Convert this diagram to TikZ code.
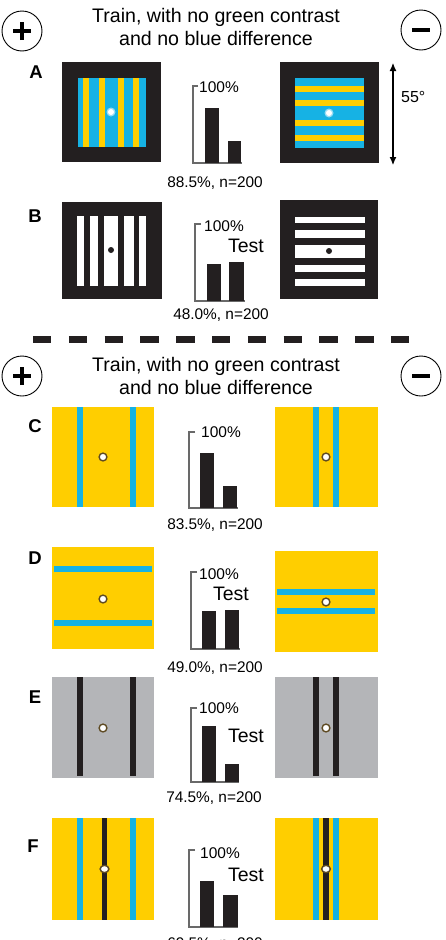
\documentclass[tikz,border=0pt]{standalone}
\usepackage{fontspec}
\setmainfont{Liberation Sans}
\usetikzlibrary{arrows.meta}
\definecolor{cy}{RGB}{22,178,228}
\definecolor{yl}{RGB}{255,206,0}
\definecolor{dk}{RGB}{35,31,32}
\definecolor{gr}{RGB}{180,181,184}
\definecolor{ax}{RGB}{105,105,105}
\definecolor{dotrim}{RGB}{95,75,35}
\begin{document}
\begin{tikzpicture}[x=1pt,y=-1pt,
  title/.style={font=\fontsize{19.6}{23}\selectfont, align=center, inner sep=0pt},
  lab/.style={font=\fontsize{18.5}{18}\selectfont\bfseries, inner sep=0pt},
  pct/.style={font=\fontsize{15.5}{16}\selectfont, anchor=west, inner sep=0pt},
  res/.style={font=\fontsize{15.4}{16}\selectfont, inner sep=0pt},
  testlab/.style={font=\fontsize{19.5}{19}\selectfont, inner sep=0pt},
  axisline/.style={draw=ax, line width=1.2pt},
  barfill/.style={fill=dk},
  sign/.style={circle, draw=black, line width=0.9pt, minimum size=40pt, inner sep=0pt},
  signbar/.style={line width=3.6pt},
  cdot/.style={fill=white, draw=dotrim, line width=1.4pt},
  dblarrow/.style={line width=1.1pt, arrows={Latex[length=8pt,width=7pt]-Latex[length=8pt,width=7pt]}}
]
\useasboundingbox (0,0) rectangle (446,940);
\fill[white] (0,0) rectangle (446,940);

% ---------- header 1 ----------
\node[title] (t1) at (216,26.5) {Train, with no green contrast\\and no blue difference};
\node[sign] (p1) at (22,31) {};
\draw[signbar] ([xshift=-9pt]p1.center) -- ([xshift=9pt]p1.center);
\draw[signbar] ([yshift=-9pt]p1.center) -- ([yshift=9pt]p1.center);
\node[sign] (m1) at (421,30) {};
\draw[signbar] ([xshift=-9pt]m1.center) -- ([xshift=9pt]m1.center);

% ---------- A ----------
\node[lab] (lA) at (36,72) {A};
\fill[dk] (62,62) rectangle (161,162);
\fill[cy] (78,78) rectangle (146,147);
\foreach \a in {83,99,118,133} \fill[yl] (\a,78) rectangle (\a+6,147);
\fill[white!55!cy] (111,112) circle (4.5);
\fill[white] (111,112) circle (3);

\fill[dk] (280,62) rectangle (379,163);
\fill[cy] (295,78) rectangle (364,148);
\foreach \a in {86,100,120,135} \fill[yl] (295,\a) rectangle (364,\a+5.5);
\fill[white!55!cy] (329,113) circle (4.5);
\fill[white] (329,113) circle (3);

\draw[axisline] (198,86) -- (193,86) -- (193,163) -- (242,163);
\fill[barfill] (205,108) rectangle (219,163);
\fill[barfill] (228,141) rectangle (241,163);
\node[pct] (pA) at (199,87) {100\%};
\node[res] (rA) at (215,183) {88.5\%, n=200};

\coordinate (ar1) at (393,63);
\coordinate (ar2) at (393,165);
\draw[dblarrow] (ar1) -- (ar2);
\node[anchor=west, inner sep=0pt, font=\fontsize{16}{16}\selectfont] (deg) at (401,97) {55°};

% ---------- B ----------
\node[lab] (lB) at (35,216) {B};
\fill[dk] (62,202) rectangle (162,299);
\fill[white] (77,216) rectangle (146,286);
\foreach \a in {84,98,118,133.5} \fill[dk] (\a,216) rectangle (\a+5.5,286);
\fill[dk] (111,250) circle (3);

\fill[dk] (280,200) rectangle (378,299);
\fill[white] (295,217) rectangle (365,286);
\foreach \a in {223,238,258,272} \fill[dk] (295,\a) rectangle (365,\a+6.5);
\fill[dk] (329,251) circle (3);

\draw[axisline] (201,224) -- (195,224) -- (195,301) -- (245,301);
\fill[barfill] (207,264) rectangle (221,301);
\fill[barfill] (229,262) rectangle (244,301);
\node[pct] (pB) at (204,226) {100\%};
\node[testlab] (tB) at (246,246) {Test};
\node[res] (rB) at (221,315) {48.0\%, n=200};

% ---------- divider ----------
\coordinate (d1) at (33,339);
\coordinate (d2) at (409,339);
\draw[dk, line width=7pt, dash pattern=on 18.3pt off 17.5pt] (d1) -- (d2);

% ---------- header 2 ----------
\node[title] (t2) at (216,375.5) {Train, with no green contrast\\and no blue difference};
\node[sign] (p2) at (22,376) {};
\draw[signbar] ([xshift=-9pt]p2.center) -- ([xshift=9pt]p2.center);
\draw[signbar] ([yshift=-9pt]p2.center) -- ([yshift=9pt]p2.center);
\node[sign] (m2) at (421,376) {};
\draw[signbar] ([xshift=-9pt]m2.center) -- ([xshift=9pt]m2.center);

% ---------- C ----------
\node[lab] (lC) at (35,426) {C};
\fill[yl] (52,407) rectangle (154,507);
\foreach \a in {77,130} \fill[cy] (\a,407) rectangle (\a+6,507);
\draw[cdot] (103,457) circle (3.9);

\fill[yl] (275,407) rectangle (378,507);
\foreach \a in {313,333} \fill[cy] (\a,407) rectangle (\a+6,507);
\draw[cdot] (326,457) circle (3.9);

\draw[axisline] (195,432) -- (189,432) -- (189,508) -- (238,508);
\fill[barfill] (200,453) rectangle (214,508);
\fill[barfill] (223,486) rectangle (237,508);
\node[pct] (pC) at (201,432) {100\%};
\node[res] (rC) at (215,525) {83.5\%, n=200};

% ---------- D ----------
\node[lab] (lD) at (35,558) {D};
\fill[yl] (52,547) rectangle (154,649);
\fill[cy] (54,566) rectangle (152,572);
\fill[cy] (54,620) rectangle (152,626);
\draw[cdot] (103,599) circle (3.9);

\fill[yl] (275,551) rectangle (378,652);
\fill[cy] (277,589) rectangle (375,595);
\fill[cy] (277,608) rectangle (375,614);
\draw[cdot] (326,602) circle (3.9);

\draw[axisline] (197,572) -- (191,572) -- (191,649) -- (240,649);
\fill[barfill] (202,611) rectangle (216,649);
\fill[barfill] (225,610) rectangle (239,649);
\node[pct] (pD) at (199,574) {100\%};
\node[testlab] (tD) at (231,594) {Test};
\node[res] (rD) at (215,668) {49.0\%, n=200};

% ---------- E ----------
\node[lab] (lE) at (35,697) {E};
\fill[gr] (52,677) rectangle (154,778);
\foreach \a in {77,130} \fill[dk] (\a,677) rectangle (\a+6,776);
\draw[cdot] (103,728) circle (3.9);

\fill[gr] (275,677) rectangle (378,778);
\foreach \a in {313,333} \fill[dk] (\a,677) rectangle (\a+6,776);
\draw[cdot] (326,728) circle (3.9);

\draw[axisline] (197,708) -- (191,708) -- (191,782) -- (239,782);
\fill[barfill] (202,726) rectangle (216,782);
\fill[barfill] (225,764) rectangle (239,782);
\node[pct] (pE) at (199,708) {100\%};
\node[testlab] (tE) at (246,736) {Test};
\node[res] (rE) at (214,798) {74.5\%, n=200};

% ---------- F ----------
\node[lab] (lF) at (33,846) {F};
\fill[yl] (52,818) rectangle (154,920);
\foreach \a in {77,130} \fill[cy] (\a,818) rectangle (\a+6,920);
\fill[dk] (102,818) rectangle (107,920);
\draw[cdot] (104.5,869) ellipse (4.4 and 3.6);

\fill[yl] (275,818) rectangle (378,920);
\foreach \a in {313,333} \fill[cy] (\a,818) rectangle (\a+6,920);
\fill[dk] (323,818) rectangle (329,920);
\draw[cdot] (326,869) ellipse (4.4 and 3.6);

\draw[axisline] (195,850) -- (189,850) -- (189,927) -- (238,927);
\fill[barfill] (200,881) rectangle (214,927);
\fill[barfill] (223,895) rectangle (238,927);
\node[pct] (pF) at (200,853) {100\%};
\node[testlab] (tF) at (246,875) {Test};
\node[res] (rF) at (215,944) {69.5\%, n=200};
\end{tikzpicture}
\end{document}
